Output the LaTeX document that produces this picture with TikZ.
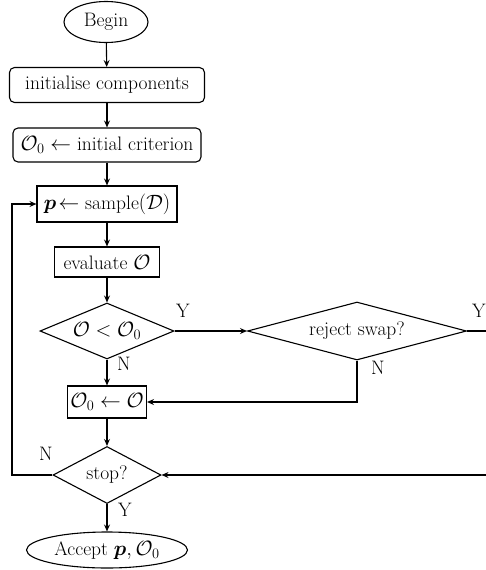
\documentclass[tikz,border=0pt]{standalone}
\usepackage{bm}
\usetikzlibrary{shapes.geometric,arrows.meta}
\begin{document}
\begin{tikzpicture}[x=1pt,y=-1pt,
  every node/.style={font=\fontsize{19.5}{23}\selectfont},
  base/.style={draw,line width=1.1pt,inner sep=0pt,align=center},
  term/.style={base,ellipse},
  rbox/.style={base,rectangle,rounded corners=5pt},
  sbox/.style={base,rectangle},
  dec/.style={base,diamond},
  lbl/.style={inner sep=0pt},
  conn/.style={line width=1.1pt,-{Stealth[length=7pt,width=6pt,inset=2.5pt]}}
]
\useasboundingbox (0,0) rectangle (485,570);
\node[term,minimum width=84,minimum height=41] (begin) at (106,22) {Begin};
\node[rbox,minimum width=195,minimum height=35] (init) at (107,85) {initialise components};
\node[rbox,minimum width=188,minimum height=34] (crit) at (107,145) {$\mathcal{O}_0 \leftarrow$ initial criterion};
\node[sbox,minimum width=140,minimum height=36] (sample) at (107,204) {$\bm{p}\!\leftarrow$ sample$(\mathcal{D})$};
\node[sbox,minimum width=105,minimum height=30] (eval) at (107,262) {evaluate $\mathcal{O}$};
\node[dec,aspect=2.4,minimum width=134,minimum height=56] (d1) at (107,331) {$\mathcal{O} < \mathcal{O}_0$};
\node[sbox,minimum width=79,minimum height=32] (upd) at (107,402) {$\mathcal{O}_0 \leftarrow \mathcal{O}$};
\node[dec,aspect=1.9,minimum width=108,minimum height=57] (stop) at (107,475) {stop?};
\node[term,minimum width=161,minimum height=36] (accept) at (107,550) {Accept $\bm{p},\mathcal{O}_0$};
\node[dec,aspect=3.78,minimum width=219,minimum height=58] (reject) at (357,331) {reject swap?};
\coordinate (rc1) at (500,331);
\coordinate (rc2) at (500,475);
\coordinate (lc) at (12,475);

\draw[conn] (begin) -- (init);
\draw[conn] (init) -- (crit);
\draw[conn] (crit) -- (sample);
\draw[conn] (sample) -- (eval);
\draw[conn] (eval) -- (d1);
\draw[conn] (d1) -- (upd);
\draw[conn] (upd) -- (stop);
\draw[conn] (stop) -- (accept);
\draw[conn] (d1.east) -- (reject.west);
\draw[conn] (reject.south) |- (upd.east);
\draw[conn] (reject.east) -- (rc1) -- (rc2) -- (stop.east);
\draw[conn] (stop.west) -- (lc) |- (sample.west);

\node[lbl] (y1) at (183,311) {Y};
\node[lbl] (n1) at (124,364) {N};
\node[lbl] (y2) at (479,311) {Y};
\node[lbl] (n2) at (378,368) {N};
\node[lbl] (n3) at (46,454) {N};
\node[lbl] (y3) at (125,510) {Y};
\end{tikzpicture}
\end{document}
